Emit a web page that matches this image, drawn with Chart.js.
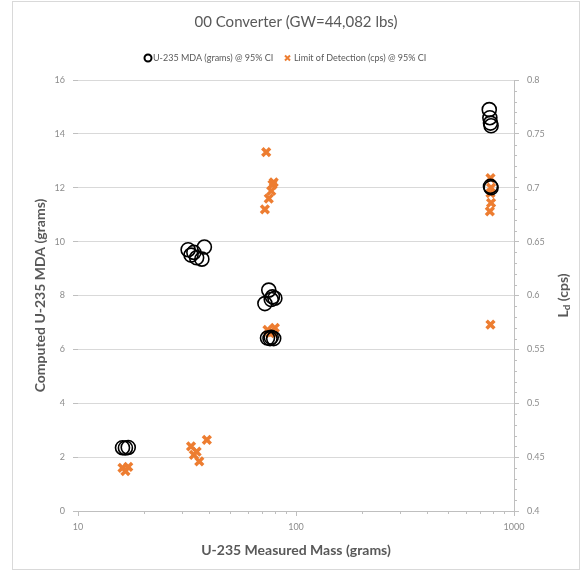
<!DOCTYPE html>
<html>
<head>
<meta charset="utf-8">
<script src="https://cdn.jsdelivr.net/npm/chart.js@4/dist/chart.umd.min.js"></script>
<style>
  html, body { margin: 0; padding: 0; background: #fff; }
  #wrap { width: 584px; height: 573px; position: relative; }
</style>
</head>
<body>
<div id="wrap"><canvas id="c" width="584" height="573"></canvas></div>
<script>
// U-235 MDA (grams) against measured U-235 mass (grams)
const mdaMass  = [16.0, 16.5, 17.0, 32, 33, 34, 35, 37, 38, 72, 75, 77, 78, 80, 74, 76, 77, 79, 770, 775, 780, 785, 780, 785];
const mdaGrams = [2.35, 2.34, 2.36, 9.7, 9.5, 9.6, 9.4, 9.35, 9.8, 7.7, 8.2, 7.85, 7.95, 7.9, 6.42, 6.4, 6.45, 6.4, 14.9, 14.6, 14.4, 14.3, 12.05, 12.0];

// Limit of detection (cps) against measured U-235 mass (grams)
const ldMass = [16.0, 16.5, 17.0, 33, 34, 36, 39, 35, 73, 79, 78, 77, 75, 72, 74, 76, 78, 80, 780, 785, 780, 785, 775, 780];
const ldCps  = [0.440, 0.437, 0.441, 0.460, 0.452, 0.446, 0.466, 0.455, 0.733, 0.705, 0.703, 0.697, 0.690, 0.680, 0.568, 0.565, 0.566, 0.570, 0.709, 0.700, 0.695, 0.686, 0.678, 0.573];

const xTicks = [10, 100, 1000];
const leftTicks = [0, 2, 4, 6, 8, 10, 12, 14, 16];
const rightTicks = [0.4, 0.45, 0.5, 0.55, 0.6, 0.65, 0.7, 0.75, 0.8];

const titleText = '00 Converter (GW=44,082 lbs)';
const mdaLabel = 'U-235 MDA (grams) @ 95% CI';
const ldLabel = 'Limit of Detection (cps) @ 95% CI';
const xTitle = 'U-235 Measured Mass (grams)';
const yTitle = 'Computed U-235 MDA (grams)';

const ORANGE = '#ED7D31';
const TEXT = '#595959';
const TICK = '#8c8c8c';
const GRID = '#d9d9d9';
const FONT = 'Lato, "Open Sans", sans-serif';

const toPoints = (xs, ys) => xs.map((x, i) => ({ x, y: ys[i] }));

// Title, legend, axis titles, minor ticks and outer frame
const decorations = {
  id: 'decorations',
  afterDraw(chart) {
    const ctx = chart.ctx;
    const area = chart.chartArea;
    const sx = chart.scales.x, sy1 = chart.scales.y1;
    ctx.save();

    // outer frame
    ctx.strokeStyle = '#d9d9d9';
    ctx.lineWidth = 1;
    ctx.strokeRect(12.5, 1.5, 567, 568);

    // title
    ctx.fillStyle = TEXT;
    ctx.font = '15px ' + FONT;
    ctx.textAlign = 'center';
    ctx.textBaseline = 'middle';
    ctx.fillText(titleText, 296, 22);

    // legend
    ctx.font = '9px ' + FONT;
    ctx.textAlign = 'left';
    ctx.beginPath();
    ctx.arc(148, 58, 3.5, 0, Math.PI * 2);
    ctx.strokeStyle = '#000';
    ctx.lineWidth = 2;
    ctx.stroke();
    ctx.fillStyle = TEXT;
    ctx.fillText(mdaLabel, 153, 58);
    ctx.strokeStyle = ORANGE;
    ctx.lineWidth = 2;
    ctx.beginPath();
    ctx.moveTo(285, 55.5); ctx.lineTo(290, 60.5);
    ctx.moveTo(290, 55.5); ctx.lineTo(285, 60.5);
    ctx.stroke();
    ctx.fillText(ldLabel, 294, 58);

    // axis titles
    ctx.font = 'bold 14px ' + FONT;
    ctx.textAlign = 'center';
    ctx.fillStyle = TEXT;
    ctx.fillText(xTitle, (area.left + area.right) / 2, 550);

    ctx.save();
    ctx.translate(40, (area.top + area.bottom) / 2);
    ctx.rotate(-Math.PI / 2);
    ctx.fillText(yTitle, 0, 0);
    ctx.restore();

    // right title: L with subscript d, then (cps)
    ctx.save();
    ctx.translate(563, (area.top + area.bottom) / 2);
    ctx.rotate(-Math.PI / 2);
    ctx.textAlign = 'left';
    const wL = ctx.measureText('L').width;
    ctx.font = 'bold 10px ' + FONT;
    const wd = ctx.measureText('d').width;
    ctx.font = 'bold 14px ' + FONT;
    const wRest = ctx.measureText(' (cps)').width;
    const start = -(wL + wd + wRest) / 2;
    ctx.fillText('L', start, 0);
    ctx.font = 'bold 10px ' + FONT;
    ctx.fillText('d', start + wL, 4);
    ctx.font = 'bold 14px ' + FONT;
    ctx.fillText(' (cps)', start + wL + wd, 0);
    ctx.restore();

    // minor ticks on the right axis
    ctx.strokeStyle = '#bfbfbf';
    ctx.lineWidth = 1;
    ctx.beginPath();
    for (let k = 40; k <= 80; k++) {
      if (k % 5 === 0) continue;
      const py = Math.round(sy1.getPixelForValue(k / 100)) + 0.5;
      ctx.moveTo(area.right, py);
      ctx.lineTo(area.right + 3, py);
    }
    // minor ticks on the log x axis
    for (let dec = 10; dec < 1000; dec *= 10) {
      for (let m = 2; m <= 9; m++) {
        const px = Math.round(sx.getPixelForValue(dec * m)) + 0.5;
        ctx.moveTo(px, area.bottom);
        ctx.lineTo(px, area.bottom + 3);
      }
    }
    ctx.stroke();
    ctx.restore();
  }
};

new Chart(document.getElementById('c'), {
  type: 'scatter',
  data: {
    datasets: [
      {
        label: mdaLabel,
        data: toPoints(mdaMass, mdaGrams),
        yAxisID: 'y',
        pointStyle: 'circle',
        pointRadius: 7,
        pointHoverRadius: 7,
        pointBorderWidth: 1.6,
        borderColor: '#000',
        backgroundColor: 'rgba(0,0,0,0)'
      },
      {
        label: ldLabel,
        data: toPoints(ldMass, ldCps),
        yAxisID: 'y1',
        pointStyle: 'crossRot',
        pointRadius: 5.5,
        pointHoverRadius: 5.5,
        pointBorderWidth: 3.5,
        borderColor: ORANGE,
        backgroundColor: ORANGE
      }
    ]
  },
  options: {
    responsive: false,
    animation: false,
    layout: { padding: { top: 80, left: 0, right: 0, bottom: 0 } },
    plugins: {
      legend: { display: false },
      title: { display: false },
      tooltip: { enabled: false }
    },
    scales: {
      x: {
        type: 'logarithmic',
        min: 10,
        max: 1000,
        afterBuildTicks: s => { s.ticks = xTicks.map(v => ({ value: v })); },
        afterFit: s => { s.height = 62; },
        grid: { display: true, drawOnChartArea: false, color: '#bfbfbf', tickLength: 5 },
        border: { display: true, color: '#bfbfbf' },
        ticks: {
          color: TICK,
          font: { size: 9, family: FONT },
          padding: 6,
          maxRotation: 0,
          autoSkip: false,
          callback: v => String(v)
        }
      },
      y: {
        position: 'left',
        min: 0,
        max: 16,
        afterBuildTicks: s => { s.ticks = leftTicks.map(v => ({ value: v })); },
        afterFit: s => { s.width = 78; },
        grid: { color: GRID, tickLength: 5, tickColor: '#bfbfbf' },
        border: { display: false },
        ticks: {
          color: TICK,
          font: { size: 9, family: FONT },
          padding: 8,
          callback: v => String(v)
        }
      },
      y1: {
        position: 'right',
        min: 0.4,
        max: 0.8,
        afterBuildTicks: s => { s.ticks = rightTicks.map(v => ({ value: v })); },
        afterFit: s => { s.width = 70; },
        grid: { drawOnChartArea: false, color: '#bfbfbf', tickLength: 5 },
        border: { display: true, color: '#bfbfbf' },
        ticks: {
          color: TICK,
          font: { size: 9, family: FONT },
          padding: 8,
          callback: v => String(Math.round(v * 100) / 100)
        }
      }
    }
  },
  plugins: [decorations]
});
</script>
</body>
</html>
